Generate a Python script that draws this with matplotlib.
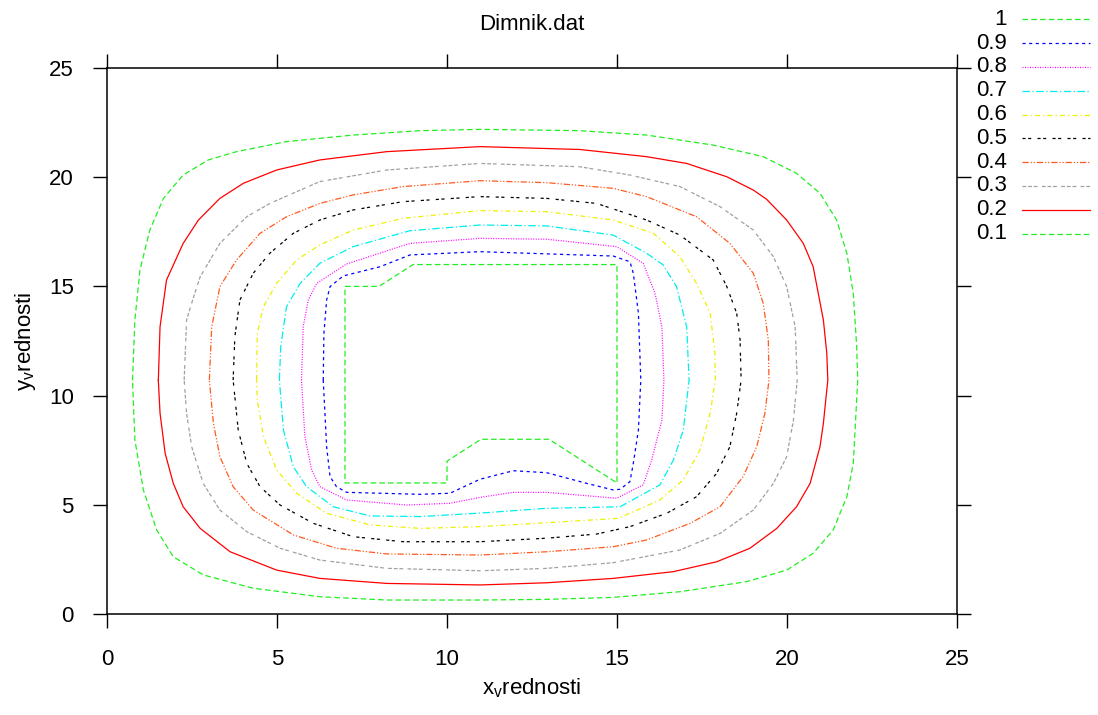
import matplotlib
matplotlib.use("Agg")
import matplotlib.pyplot as plt
from matplotlib.lines import Line2D

plt.rcParams['font.family'] = ['Liberation Sans', 'DejaVu Sans']

# contour levels (legend order) and the traced polylines for each level
levels = ['1', '0.9', '0.8', '0.7', '0.6', '0.5', '0.4', '0.3', '0.2', '0.1']

c10_x = [7, 8, 9, 15, 15, 13, 11, 10, 10, 7, 7]
c10_y = [15, 15, 16, 16, 6, 8, 8, 7, 6, 6, 15]

c09_x = [6.36, 6.38, 6.46, 6.56, 6.95, 8.03, 8.91, 10.97, 14.89, 15.38, 15.48, 15.63, 15.7, 15.63,
         15.48, 15.38, 15.09, 14.89, 14.11, 12.93, 11.95, 10.97, 10.09, 9.21, 7.05, 6.75, 6.56, 6.46, 6.36]
c09_y = [10.71, 12.85, 14.38, 14.99, 15.48, 15.9, 16.44, 16.59, 16.39, 16.13, 15.6, 13.77, 10.71, 8.42,
         6.9, 6.06, 5.71, 5.68, 5.98, 6.47, 6.56, 6.17, 5.53, 5.48, 5.57, 5.83, 6.29, 7.66, 10.71]

c08_x = [5.72, 5.77, 5.92, 6.17, 7.05, 8.91, 10.97, 12.93, 14.99, 15.77, 16.12, 16.32, 16.38, 16.32,
         16.02, 15.77, 14.99, 12.93, 11.95, 10.97, 10.09, 8.81, 7.05, 6.26, 6.02, 5.82, 5.72]
c08_y = [10.71, 13.15, 14.38, 15.14, 16.03, 16.97, 17.2, 17.16, 16.82, 16.06, 14.68, 13.15, 10.71, 8.88,
         7.05, 5.91, 5.3, 5.57, 5.57, 5.34, 5.07, 4.99, 5.22, 5.83, 6.59, 8.12, 10.71]

c07_x = [5.07, 5.11, 5.28, 5.68, 6.26, 7.24, 8.91, 10.97, 12.93, 14.89, 15.87, 16.36, 16.75, 17.05,
         17.12, 16.95, 16.66, 16.26, 15.09, 12.93, 10.97, 9.21, 7.74, 6.66, 5.87, 5.48, 5.19, 5.07]
c07_y = [10.71, 12.24, 14.07, 15.14, 16.06, 16.82, 17.55, 17.81, 17.77, 17.35, 16.52, 15.98, 14.99, 13.15,
         10.71, 8.42, 7.05, 5.91, 4.91, 4.84, 4.62, 4.46, 4.49, 4.91, 5.83, 6.74, 8.42, 10.71]

c06_x = [4.4, 4.42, 4.6, 4.99, 5.58, 6.26, 7.24, 8.71, 10.97, 12.93, 14.89, 16.07, 16.85, 17.34, 17.74,
         17.88, 17.89, 17.74, 17.44, 16.95, 16.26, 15.04, 12.93, 10.97, 9.21, 7.74, 6.46, 5.58, 4.99,
         4.6, 4.42, 4.4]
c06_y = [10.71, 12.85, 14.07, 15.14, 16.21, 16.9, 17.58, 18.12, 18.47, 18.42, 18.04, 17.43, 16.36, 15.14,
         13.77, 11.94, 10.71, 9.19, 7.51, 6.14, 5.22, 4.38, 4.18, 4.0, 3.92, 4.08, 4.61, 5.53, 6.59,
         8.12, 9.8, 10.71]

c05_x = [3.71, 3.76, 3.91, 4.3, 4.79, 5.48, 6.26, 7.24, 8.71, 10.97, 12.93, 14.4, 15.87, 16.85, 17.83,
         18.23, 18.52, 18.62, 18.65, 18.52, 18.32, 17.93, 17.34, 16.46, 15.38, 14.4, 12.93, 10.97, 8.71,
         7.24, 6.07, 5.09, 4.5, 4.11, 3.86, 3.71]
c05_y = [10.71, 12.7, 14.38, 15.6, 16.52, 17.43, 18.04, 18.5, 18.88, 19.11, 19.03, 18.8, 18.04, 17.35,
         16.21, 14.99, 13.77, 12.55, 10.71, 9.19, 7.66, 6.44, 5.37, 4.61, 4.0, 3.66, 3.47, 3.31, 3.31,
         3.54, 4.15, 4.99, 5.83, 6.9, 8.42, 10.71]

c04_x = [3.01, 3.08, 3.32, 3.81, 4.5, 5.28, 6.26, 7.24, 8.71, 10.97, 12.93, 14.89, 15.87, 17.34, 18.32,
         19.01, 19.3, 19.45, 19.47, 19.35, 19.11, 18.71, 18.03, 17.15, 15.87, 14.89, 12.93, 10.97, 8.23,
         6.75, 5.48, 4.3, 3.71, 3.32, 3.13, 3.01]
c04_y = [10.71, 13.15, 14.99, 16.21, 17.43, 18.19, 18.8, 19.19, 19.57, 19.84, 19.75, 19.49, 19.11, 18.19,
         16.97, 15.6, 14.23, 12.55, 10.71, 9.19, 7.66, 6.29, 4.91, 4.15, 3.39, 3.08, 2.85, 2.7, 2.75,
         3.01, 3.62, 4.76, 5.83, 7.2, 8.73, 10.71]

c03_x = [2.27, 2.34, 2.49, 2.74, 3.32, 4.11, 4.79, 6.26, 8.23, 10.97, 13.9, 15.38, 16.85, 18.03, 19.01,
         19.6, 19.99, 20.24, 20.3, 20.19, 19.99, 19.6, 19.01, 18.03, 16.85, 14.89, 12.93, 10.97, 8.23,
         6.26, 5.09, 4.11, 3.32, 2.83, 2.49, 2.34, 2.27]
c03_y = [10.71, 13.46, 14.23, 15.44, 16.97, 18.19, 18.8, 19.8, 20.33, 20.63, 20.48, 20.1, 19.57, 18.65,
         17.58, 16.36, 14.99, 13.15, 10.71, 8.88, 7.2, 5.98, 4.76, 3.69, 2.93, 2.35, 2.09, 1.98, 2.09,
         2.47, 3.01, 3.77, 4.76, 5.98, 7.66, 9.19, 10.71]

c02_x = [1.51, 1.56, 1.75, 2.24, 2.69, 3.32, 4.01, 4.99, 6.26, 8.23, 10.97, 13.9, 15.87, 17.05, 18.23,
         19.01, 19.4, 19.99, 20.48, 20.77, 21.07, 21.17, 21.2, 21.07, 20.97, 20.68, 20.28, 19.7, 18.91,
         17.93, 16.66, 14.89, 12.93, 10.97, 8.23, 6.26, 4.99, 3.62, 2.74, 2.24, 1.95, 1.71, 1.56, 1.51]
c02_y = [10.7, 13.15, 15.29, 16.97, 18.04, 19.03, 19.72, 20.33, 20.79, 21.17, 21.4, 21.27, 20.94, 20.63,
         20.02, 19.41, 18.99, 18.04, 16.97, 15.9, 13.46, 11.94, 10.71, 8.73, 7.66, 5.98, 4.91, 3.92, 3.01,
         2.39, 1.94, 1.63, 1.43, 1.33, 1.4, 1.63, 2.01, 2.85, 3.92, 4.91, 5.98, 7.36, 9.19, 10.7]

c01_x = [0.75, 0.82, 0.97, 1.26, 1.66, 2.24, 2.98, 3.81, 5.28, 7.24, 9.2, 10.97, 13.9, 15.87, 17.83,
         19.3, 20.28, 20.97, 21.46, 21.76, 21.95, 22.05, 22.08, 21.95, 21.76, 21.36, 20.77, 19.99, 18.81,
         16.85, 14.89, 12.93, 10.97, 8.23, 6.26, 4.3, 2.83, 1.95, 1.46, 1.07, 0.82, 0.75]
c01_y = [10.7, 13.46, 15.75, 17.58, 19.03, 20.1, 20.79, 21.17, 21.63, 21.93, 22.13, 22.19, 22.13, 21.93,
         21.47, 20.94, 20.18, 19.26, 18.04, 16.52, 14.68, 12.24, 10.71, 6.9, 5.37, 3.85, 2.78, 2.01, 1.48,
         1.02, 0.76, 0.67, 0.64, 0.64, 0.79, 1.18, 1.79, 2.62, 3.85, 5.68, 7.97, 10.7]

xs = [c10_x, c09_x, c08_x, c07_x, c06_x, c05_x, c04_x, c03_x, c02_x, c01_x]
ys = [c10_y, c09_y, c08_y, c07_y, c06_y, c05_y, c04_y, c03_y, c02_y, c01_y]

colors = ['#22ee22', '#0000ff', '#ff00ff', '#00eeee', '#eeee00', '#000000',
          '#ff5a1e', '#a0a0a0', '#ff0000', '#22ee22']
dashes = [(0, (4.5, 2.5)), (0, (2.5, 2.8)), (0, (0.8, 1.2)), (0, (6, 2, 1, 2)),
          (0, (4, 2.5, 1, 2.5)), (0, (2.5, 2, 2.5, 5)), (0, (5, 1.5, 1, 1.5, 1, 1.5)),
          (0, (3, 1.5, 3, 1.5, 3, 3.5)), '-', (0, (4.5, 2.5))]

W, H = 1098, 715
fig = plt.figure(figsize=(W / 100, H / 100), dpi=100)
ax = fig.add_axes([107 / W, 1 - 614 / H, 850 / W, 546 / H])

for x, y, c, d in zip(xs, ys, colors, dashes):
    ax.plot(x, y, color=c, linestyle=d, linewidth=0.9)

ax.set_xlim(0, 25)
ax.set_ylim(0, 25)
ax.set_xticks(range(0, 26, 5))
ax.set_yticks(range(0, 26, 5))
ax.tick_params(direction='out', length=10, width=1, top=True, right=True, labelsize=16)
ax.tick_params(axis='x', pad=15)
ax.tick_params(axis='y', pad=14)
for s in ax.spines.values():
    s.set_linewidth(1.1)

fig.suptitle('Dimnik.dat', x=532 / W, y=1 - 30 / H, va='baseline', fontsize=16)
ax.set_xlabel(r'x$_\mathregular{v}$rednosti', fontsize=16, labelpad=5)
ax.set_ylabel(r'y$_\mathregular{v}$rednosti', fontsize=16, labelpad=8)

# legend drawn at the right, outside the plot
for i, (lab, c, d) in enumerate(zip(levels, colors, dashes)):
    yy = 1 - (19.3 + 23.8 * i) / H
    fig.text(1007 / W, yy, lab, ha='right', va='center', fontsize=16)
    fig.add_artist(Line2D([1022 / W, 1090 / W], [yy, yy], color=c, linestyle=d,
                          linewidth=0.9, transform=fig.transFigure))

fig.savefig('out.png', dpi=100)
